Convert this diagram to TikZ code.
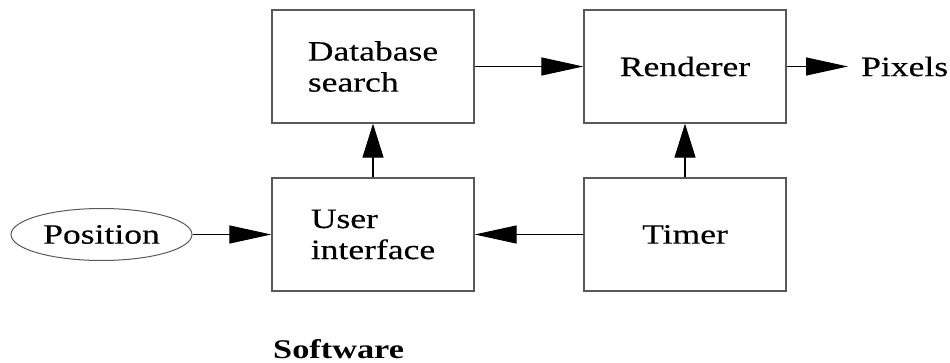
\documentclass[tikz,border=0pt]{standalone}
\usepackage{fontspec}
\setmainfont{Liberation Serif}[FakeStretch=1.27, UprightFeatures={FakeBold=0.3}]
\usetikzlibrary{arrows.meta,shapes.geometric}
\begin{document}
\begin{tikzpicture}[x=1pt,y=-1pt,
  labelfont/.style={font=\fontsize{28}{31}\selectfont},
  block/.style={draw=black!65, line width=1.3pt, minimum width=202pt,
    minimum height=113pt, inner sep=0pt, align=left, labelfont},
  oval/.style={ellipse, draw=black!65, line width=1pt, minimum width=181pt,
    minimum height=52pt, inner sep=0pt, labelfont},
  hflow/.style={line width=1.2pt, -{Triangle[length=42pt,width=18pt]}},
  vflow/.style={line width=1.2pt, -{Triangle[length=34pt,width=21pt]}}]
\useasboundingbox (0,0) rectangle (950,363);

% processing blocks
\node[block] (db)    at (373,66.5)  {Database\\search};
\node[block] (rend)  at (685,66.5)  {Renderer};
\node[block] (ui)    at (373,234.5) {User\\interface};
\node[block] (timer) at (685,234.5) {Timer};

% input and output
\node[oval] (pos) at (101.5,234.5) {Position};
\node[labelfont, inner sep=0pt, anchor=west] (pix) at (861,66.5) {Pixels};

% data flow
\draw[hflow] (db.east) -- (rend.west);
\draw[hflow, shorten >=13pt] (rend.east) -- (pix.west);
\draw[vflow] (ui.north) -- (db.south);
\draw[vflow] (timer.north) -- (rend.south);
\draw[hflow] (pos.east) -- (ui.west);
\draw[hflow] (timer.west) -- (ui.east);

% caption
\node[labelfont, font=\fontsize{27}{31}\selectfont\bfseries, inner sep=0pt,
  anchor=base west] (sw) at (273,358) {Software};
\end{tikzpicture}
\end{document}
